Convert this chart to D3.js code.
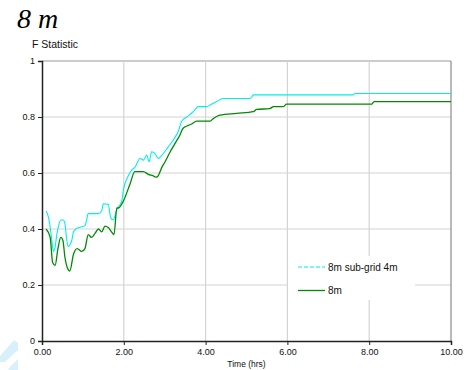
<!DOCTYPE html>
<html><head><meta charset="utf-8">
<script src="https://cdn.jsdelivr.net/npm/d3@7"></script>
<style>body{margin:0;background:#fff}svg{display:block}</style>
</head><body>
<svg id="c" width="473" height="370"></svg>
<script>
const xTicks = [0, 2, 4, 6, 8, 10];
const yTicks = [0, 0.2, 0.4, 0.6, 0.8, 1];
const seriesNames = ["8m sub-grid 4m", "8m"];
const subT = [0.10,0.13,0.18,0.24,0.28,0.32,0.36,0.40,0.46,0.52,0.56,0.60,0.64,0.68,0.73,0.77,0.85,0.97,1.05,1.09,1.13,1.38,1.46,1.50,1.62,1.68,1.74,1.83,1.95,1.99,2.11,2.19,2.27,2.40,2.48,2.56,2.62,2.68,2.76,2.84,2.97,3.09,3.21,3.33,3.42,3.54,3.70,3.82,4.03,4.11,4.27,4.43,5.09,5.17,7.61,7.65,10];
const subV = [0.464,0.456,0.426,0.36,0.32,0.335,0.379,0.408,0.432,0.432,0.42,0.367,0.337,0.343,0.36,0.39,0.402,0.408,0.412,0.432,0.455,0.455,0.465,0.49,0.488,0.44,0.432,0.47,0.50,0.54,0.59,0.61,0.62,0.652,0.646,0.664,0.64,0.676,0.67,0.652,0.67,0.694,0.718,0.748,0.786,0.80,0.819,0.837,0.837,0.843,0.855,0.866,0.866,0.879,0.879,0.884,0.884];
const mT = [0.10,0.20,0.26,0.32,0.39,0.46,0.51,0.56,0.64,0.68,0.77,0.86,0.97,1.05,1.13,1.21,1.30,1.38,1.46,1.54,1.62,1.70,1.76,1.83,1.87,1.99,2.15,2.27,2.48,2.60,2.72,2.79,2.84,2.93,3.01,3.13,3.25,3.37,3.45,3.58,3.66,3.78,4.11,4.19,4.35,4.76,5.17,5.25,5.57,5.66,5.90,5.98,8.06,8.12,10];
const mV = [0.40,0.37,0.28,0.27,0.33,0.37,0.36,0.30,0.255,0.25,0.31,0.33,0.32,0.33,0.38,0.37,0.385,0.40,0.39,0.41,0.405,0.39,0.38,0.475,0.475,0.50,0.56,0.605,0.605,0.595,0.59,0.585,0.59,0.62,0.64,0.675,0.705,0.735,0.76,0.77,0.775,0.785,0.785,0.795,0.807,0.813,0.819,0.827,0.83,0.837,0.837,0.846,0.846,0.855,0.855];

const svg = d3.select("#c");
const L = 42, R = 451, T = 61, B = 341;
const x = d3.scaleLinear().domain([0, 10]).range([L, R]);
const y = d3.scaleLinear().domain([0, 1]).range([B, T]);
const font = "'Liberation Sans', Arial, sans-serif";

// watermark
svg.append("polygon").attr("points","14,340 18,343 18,350 5,362 0,362 0,356").attr("fill","#d7f0fc");
svg.append("polygon").attr("points","10,367 18,359 18,370 8,370").attr("fill","#d7f0fc");

// gridlines
svg.append("g").selectAll("line").data(yTicks.filter(d => d > 0)).join("line")
  .attr("x1", L).attr("x2", R).attr("y1", d => y(d)).attr("y2", d => y(d))
  .attr("stroke", d => d === 1 ? "#9a9a9a" : "#d4d4d4").attr("stroke-width", 1.2);
svg.append("g").selectAll("line").data(xTicks.filter(d => d > 0)).join("line")
  .attr("x1", d => x(d)).attr("x2", d => x(d)).attr("y1", T).attr("y2", B)
  .attr("stroke", d => d === 10 ? "#8a8a8a" : "#d4d4d4").attr("stroke-width", 1.2);

// axes
const yAxis = svg.append("g").attr("transform", `translate(${L},0)`)
  .call(d3.axisLeft(y).tickValues(yTicks).tickSize(4).tickPadding(3)
    .tickFormat(d => d === 0 ? "0" : d === 1 ? "1" : d.toFixed(1)));
const xAxis = svg.append("g").attr("transform", `translate(0,${B})`)
  .call(d3.axisBottom(x).tickValues(xTicks).tickSize(4).tickPadding(4)
    .tickFormat(d => d.toFixed(2)));
[yAxis, xAxis].forEach(a => {
  a.select(".domain").attr("stroke", "#222").attr("stroke-width", 1.5);
  a.selectAll(".tick line").attr("stroke", "#222");
  a.selectAll("text").attr("font-family", font).attr("font-size", 9).attr("fill", "#111");
});

// lines
const line = d3.line().x(d => x(d[0])).y(d => y(d[1])).curve(d3.curveMonotoneX);
svg.append("path").datum(subT.map((t, i) => [t, subV[i]]))
  .attr("d", line).attr("fill", "none").attr("stroke", "#00eeee")
  .attr("stroke-width", 1.1);
svg.append("path").datum(mT.map((t, i) => [t, mV[i]]))
  .attr("d", line).attr("fill", "none").attr("stroke", "#008a00")
  .attr("stroke-width", 1.3);

// legend
const lg = svg.append("g");
lg.append("rect").attr("x", 288).attr("y", 256).attr("width", 127).attr("height", 44).attr("fill", "#fff");
lg.append("line").attr("x1", 298).attr("x2", 325).attr("y1", 267).attr("y2", 267)
  .attr("stroke", "#00eeee").attr("stroke-width", 1.1).attr("stroke-dasharray", "4,2");
lg.append("line").attr("x1", 298).attr("x2", 325).attr("y1", 290.5).attr("y2", 290.5)
  .attr("stroke", "#008a00").attr("stroke-width", 1.3);
lg.append("text").attr("x", 328).attr("y", 270.5).text(seriesNames[0])
  .attr("font-family", font).attr("font-size", 10).attr("fill", "#111");
lg.append("text").attr("x", 328).attr("y", 294).text(seriesNames[1])
  .attr("font-family", font).attr("font-size", 10).attr("fill", "#111");

// titles
svg.append("text").attr("x", 17).attr("y", 28).text("8 m")
  .attr("font-family", "'Liberation Serif', 'Times New Roman', serif").attr("font-style", "italic")
  .attr("font-size", 28).attr("fill", "#000");
svg.append("text").attr("x", 32).attr("y", 48).text("F Statistic")
  .attr("font-family", font).attr("font-size", 10.5).attr("fill", "#111");
svg.append("text").attr("x", x(5)).attr("y", 367).attr("text-anchor", "middle").text("Time (hrs)")
  .attr("font-family", font).attr("font-size", 8.5).attr("fill", "#111");
</script>
</body></html>
